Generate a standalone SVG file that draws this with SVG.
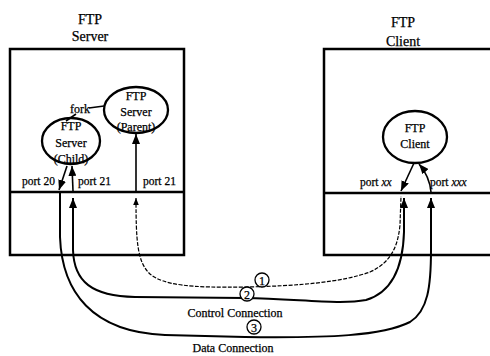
<svg xmlns="http://www.w3.org/2000/svg" width="490" height="356" viewBox="0 0 490 356">
<style>
text{font-family:"Liberation Serif","Times New Roman",serif;fill:#000;stroke:#000;stroke-width:0.25}
.title{font-size:14px;text-anchor:middle}
.lbl{font-size:12px;text-anchor:middle}
.digit{font-size:12px;text-anchor:middle}
.port{font-size:11.5px}
.box{fill:none;stroke:#000;stroke-width:2.5}
.ell{fill:#fff;stroke:#000;stroke-width:2.3}
.ln{fill:none;stroke:#000;stroke-width:1.6}
.thick{fill:none;stroke:#000;stroke-width:2}
.dash{fill:none;stroke:#000;stroke-width:1.2;stroke-dasharray:4 1.5}
.num{fill:#fff;stroke:#000;stroke-width:1.3}
</style>
<defs>
<marker id="arr" viewBox="0 0 10 8" refX="10" refY="4" markerUnits="userSpaceOnUse" markerWidth="10" markerHeight="8" orient="auto-start-reverse"><path d="M0,0 L10,4 L0,8 z" fill="#000"/></marker>
<marker id="arrs" viewBox="0 0 10 8" refX="10" refY="4" markerUnits="userSpaceOnUse" markerWidth="7" markerHeight="5.6" orient="auto-start-reverse"><path d="M0,0 L10,4 L0,8 z" fill="#000"/></marker>
</defs>
<g id="server">
<text class="title" x="90" y="24">FTP</text>
<text class="title" x="90" y="41">Server</text>
<rect class="box" x="10" y="49" width="174" height="206"/>
<line class="box" x1="10" y1="192" x2="184" y2="192"/>
<text class="port" x="22" y="185">port 20</text>
<text class="port" x="78" y="185">port 21</text>
<text class="port" x="143" y="185">port 21</text>
</g>
<g id="client">
<text class="title" x="403" y="27">FTP</text>
<text class="title" x="403" y="46">Client</text>
<path class="box" d="M495,49 L324,49 L324,255 L495,255"/>
<line class="box" x1="324" y1="193" x2="495" y2="193"/>
<text class="port" x="360" y="186">port <tspan font-style="italic">xx</tspan></text>
<text class="port" x="430" y="186">port <tspan font-style="italic">xxx</tspan></text>
</g>
<g id="parent">
<ellipse class="ell" cx="136" cy="110" rx="32" ry="23"/>
<text class="lbl" x="136" y="100">FTP</text>
<text class="lbl" x="136" y="116">Server</text>
<text class="lbl" x="136" y="131">(Parent)</text>
</g>
<g id="child">
<ellipse class="ell" cx="71" cy="141" rx="29" ry="23"/>
<text class="lbl" x="71" y="130">FTP</text>
<text class="lbl" x="71" y="147">Server</text>
<text class="lbl" x="71" y="163">(Child)</text>
</g>
<g id="client-proc">
<ellipse class="ell" cx="415" cy="137" rx="32" ry="26"/>
<text class="lbl" x="415" y="132">FTP</text>
<text class="lbl" x="415" y="148">Client</text>
</g>
<g id="fork">
<text class="lbl" x="80" y="113">fork</text>
</g>
<g id="connectors">
<line class="ln" x1="89" y1="108" x2="104" y2="106"/>
<line class="ln" x1="76" y1="114" x2="66" y2="121"/>
<line class="ln" x1="136" y1="191" x2="136" y2="134" marker-end="url(#arr)"/>
<line class="ln" x1="73" y1="191" x2="72" y2="166" marker-end="url(#arr)"/>
<line class="ln" x1="67" y1="166" x2="59" y2="190" marker-end="url(#arr)"/>
<line class="ln" x1="414" y1="163" x2="401" y2="191" marker-end="url(#arr)"/>
<path class="ln" d="M431,192 C430,181 425,171 419,164" marker-end="url(#arr)"/>
<path class="dash" d="M136,198 C136,240 137,262 150,274 C163,285 190,288 245,287 C300,286 342,282 370,272 C392,262 398,245 400,225 L401,196" marker-start="url(#arrs)"/>
<path class="thick" d="M73,198 L73,250 C74,282 92,296 135,297 L245,298 C300,299 340,305 366,300 C393,292 403,266 404,232 L404,198" marker-start="url(#arr)" marker-end="url(#arr)"/>
<path class="thick" d="M60,192 L60,237 C62,292 92,332 165,335 L245,337 C330,338 382,336 410,322 C428,311 431,286 431,250 L431,198" marker-end="url(#arr)"/>
<circle class="num" cx="262" cy="280" r="7"/>
<text class="digit" x="262" y="284.5">1</text>
<circle class="num" cx="247" cy="294" r="7"/>
<text class="digit" x="247" y="298.5">2</text>
<circle class="num" cx="254" cy="327" r="7"/>
<text class="digit" x="254" y="331.5">3</text>
<text class="lbl" x="235" y="317">Control Connection</text>
<text class="lbl" x="233" y="352">Data Connection</text>
</g>
</svg>
